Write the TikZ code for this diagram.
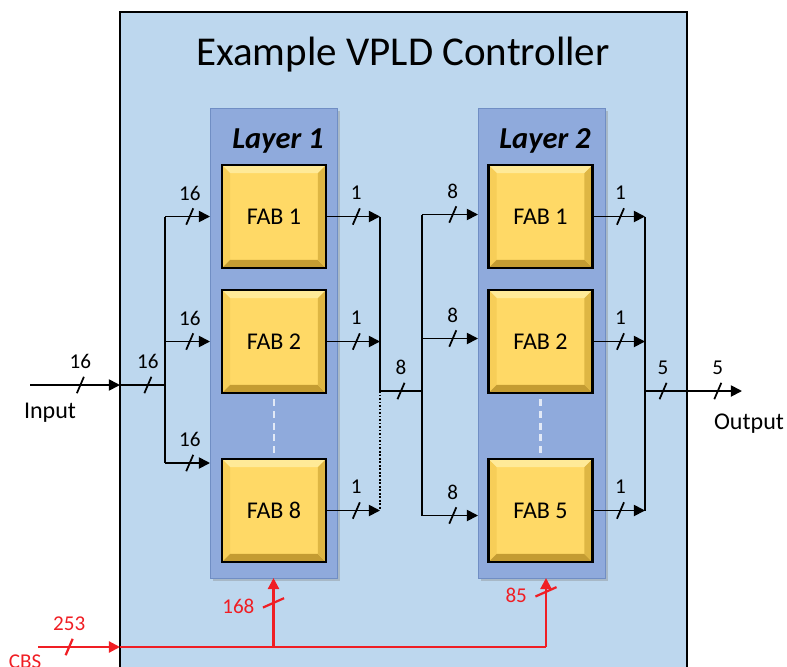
\documentclass[tikz,border=0pt]{standalone}
\usepackage{fontspec}
\setmainfont{Carlito}
\usetikzlibrary{arrows.meta,decorations.markings,shadows,calc,positioning}
\definecolor{ctrlblue}{RGB}{189,215,238}
\definecolor{layerblue}{RGB}{143,170,220}
\definecolor{layeredge}{RGB}{112,142,196}
\definecolor{fabface}{RGB}{255,217,102}
\definecolor{fabhi}{RGB}{255,234,152}
\definecolor{fabside}{RGB}{247,206,88}
\definecolor{fablo}{RGB}{196,156,50}
\definecolor{fabmid}{RGB}{222,182,68}
\definecolor{cbsred}{RGB}{240,30,36}
\newcommand\busfont{\fontsize{18}{18}\selectfont}
\tikzset{
  every picture/.style={line width=1.5pt},
  sig/.style={-{Triangle[length=9.5pt,width=9.5pt]}},
  % slash with bus width on a horizontal line
  busmark/.style 2 args={postaction={decorate}, decoration={markings,
      mark=at position #1 with {\pgftransformresetnontranslations
        \draw[-] (-3pt,-7pt) -- (3pt,7pt);
        \node[font=\busfont] at (0pt,20pt) {#2};}}},
  bus/.style={busmark={0.55}{#1}},
  % slash with bus width on a vertical line
  cbusmark/.style 2 args={postaction={decorate}, decoration={markings,
      mark=at position #1 with {\pgftransformresetnontranslations
        \draw[-] (-9pt,-4pt) -- (9pt,4pt);
        \node[font=\busfont, left=12pt] at (0pt,-3pt) {#2};}}},
  cbs/.style={cbsred, line width=1.9pt},
  ctrl/.style={draw=black, line width=1.6pt, fill=ctrlblue, outer sep=0pt,
    minimum width=17.01cm, minimum height=20.64cm},
  title/.style={font=\fontsize{35}{35}\selectfont},
  panel/.style={draw=layeredge, line width=0.6pt, fill=layerblue, outer sep=0pt,
    minimum width=3.81cm, minimum height=14.1cm,
    drop shadow={shadow xshift=2.5pt, shadow yshift=-2.5pt, opacity=.35}},
  layer/.style={font=\fontsize{26}{26}\selectfont\bfseries\itshape},
  fab/.style={draw=black, line width=2.4pt, fill=fabface,
    minimum width=3.12cm, minimum height=3.09cm,
    font=\fontsize{20.5}{20.5}\selectfont,
    path picture={
      \path (path picture bounding box.north west) coordinate (pnw)
            (path picture bounding box.south east) coordinate (pse);
      \fill[fabhi] (pnw) -- (pnw -| pse) -- ($(pnw -| pse)+(-7pt,-7pt)$)
        -- ($(pnw)+(7pt,-7pt)$) -- cycle;
      \fill[fabside] (pnw) -- (pnw |- pse) -- ($(pnw |- pse)+(7pt,7pt)$)
        -- ($(pnw)+(7pt,-7pt)$) -- cycle;
      \fill[fablo] (pse) -- (pnw |- pse) -- ($(pnw |- pse)+(7pt,7pt)$)
        -- ($(pse)+(-7pt,7pt)$) -- cycle;
      \fill[fabmid] (pse) -- (pnw -| pse) -- ($(pnw -| pse)+(-7pt,-7pt)$)
        -- ($(pse)+(-7pt,7pt)$) -- cycle;
    }},
  gap/.style={white, opacity=.75, line width=2.5pt, dash pattern=on 6pt off 4pt,
    shorten <=4pt, shorten >=4pt},
  io/.style={font=\fontsize{20.5}{20.5}\selectfont},
  cbslbl/.style={cbsred, font=\busfont}
}

\begin{document}
\begin{tikzpicture}[x=0.03cm, y=-0.03cm]
    \useasboundingbox (0,0) rectangle (787,666);
    \clip (0,0) rectangle (787,666);

    % controller frame
    \node[ctrl] (ctrl) at (403.5,356) {};
    \node[title] (ttl) at (403,55) {Example VPLD Controller};

    % layer panels
    \node[panel] (pan1) at (273.5,343) {};
    \node[panel] (pan2) at (541.5,343) {};
    \node[layer] (lay1) at (278,141) {Layer 1};
    \node[layer] (lay2) at (545,141) {Layer 2};

    % FABs
    \node[fab] (f11) at (274,216.5) {FAB 1};
    \node[fab] (f12) at (274,341.5) {FAB 2};
    \node[fab] (f13) at (274,510.5) {FAB 8};
    \node[fab] (f21) at (540.5,216.5) {FAB 1};
    \node[fab] (f22) at (540.5,341.5) {FAB 2};
    \node[fab] (f23) at (540.5,510.5) {FAB 5};
    \draw[gap] (f12.south) -- (f13.north);
    \draw[gap] (f22.south) -- (f23.north);

    % input bus
    \coordinate (inp) at (30,385);
    \coordinate (sp1) at (165,385);
    \coordinate (sp1b) at (165,463);
    \draw[sig, busmark={0.56}{16}] (inp) -- (inp -| ctrl.west);
    \draw[busmark={0.62}{16}] (inp -| ctrl.west) -- (sp1);
    \draw (sp1 |- f11) -- (sp1b);
    \foreach \f in {f11,f12}
        \draw[sig, bus=16] (sp1 |- \f) -- (\f -| pan1.west);
    \draw[sig, bus=16] (sp1b) -- (sp1b -| pan1.west);
    \node[io] (inlbl) at (50,413) {Input};

    % layer 1 to layer 2
    \coordinate (mg1) at (380,391);
    \coordinate (sp2) at (422,391);
    \foreach \f in {f11,f12,f13}
        \draw[sig, bus=1] (\f.east) -- (\f -| mg1);
    \draw (mg1 |- f11) -- (mg1);
    \draw[dash pattern=on 1.5pt off 1.5pt] (mg1) -- (mg1 |- f13);
    \draw[busmark={0.5}{8}] (mg1) -- (sp2);
    \draw ($(sp2 |- f21)+(0,-2)$) -- ($(sp2 |- f23)+(0,5)$);
    \draw[sig, bus=8] ($(sp2 |- f21)+(0,-2)$) -- ($(f21 -| pan2.west)+(0,-2)$);
    \draw[sig, bus=8] ($(sp2 |- f22)+(0,-3)$) -- ($(f22 -| pan2.west)+(0,-3)$);
    \draw[sig, bus=8] ($(sp2 |- f23)+(0,5)$) -- ($(f23 -| pan2.west)+(0,5)$);

    % output bus
    \coordinate (mg2) at (645,391);
    \coordinate (outp) at (742,391);
    \foreach \f in {f21,f22,f23}
        \draw[sig, busmark={0.52}{1}] (\f.east) -- (\f -| mg2);
    \draw (mg2 |- f21) -- (mg2 |- f23);
    \draw[busmark={0.43}{5}] (mg2) -- (mg2 -| ctrl.east);
    \draw[sig, busmark={0.56}{5}] (mg2 -| ctrl.east) -- (outp);
    \node[io] (outlbl) at (749,424) {Output};

    % configuration bit stream
    \coordinate (cbsin) at (38,647);
    \coordinate (cbsj2) at (546,647);
    \draw[cbs, sig, busmark={0.38}{253}] (cbsin) -- (cbsin -| ctrl.west);
    \draw[cbs] (cbsin -| ctrl.west) -- (cbsj2);
    \draw[cbs, sig, cbusmark={0.64}{168}] (pan1.south |- cbsin) -- (pan1.south);
    \draw[cbs, sig, cbusmark={0.8}{85}] (cbsj2) -- (cbsj2 |- pan2.south);
    \node[cbslbl] (cbsl) at (25,662) {CBS};
\end{tikzpicture}
\end{document}
